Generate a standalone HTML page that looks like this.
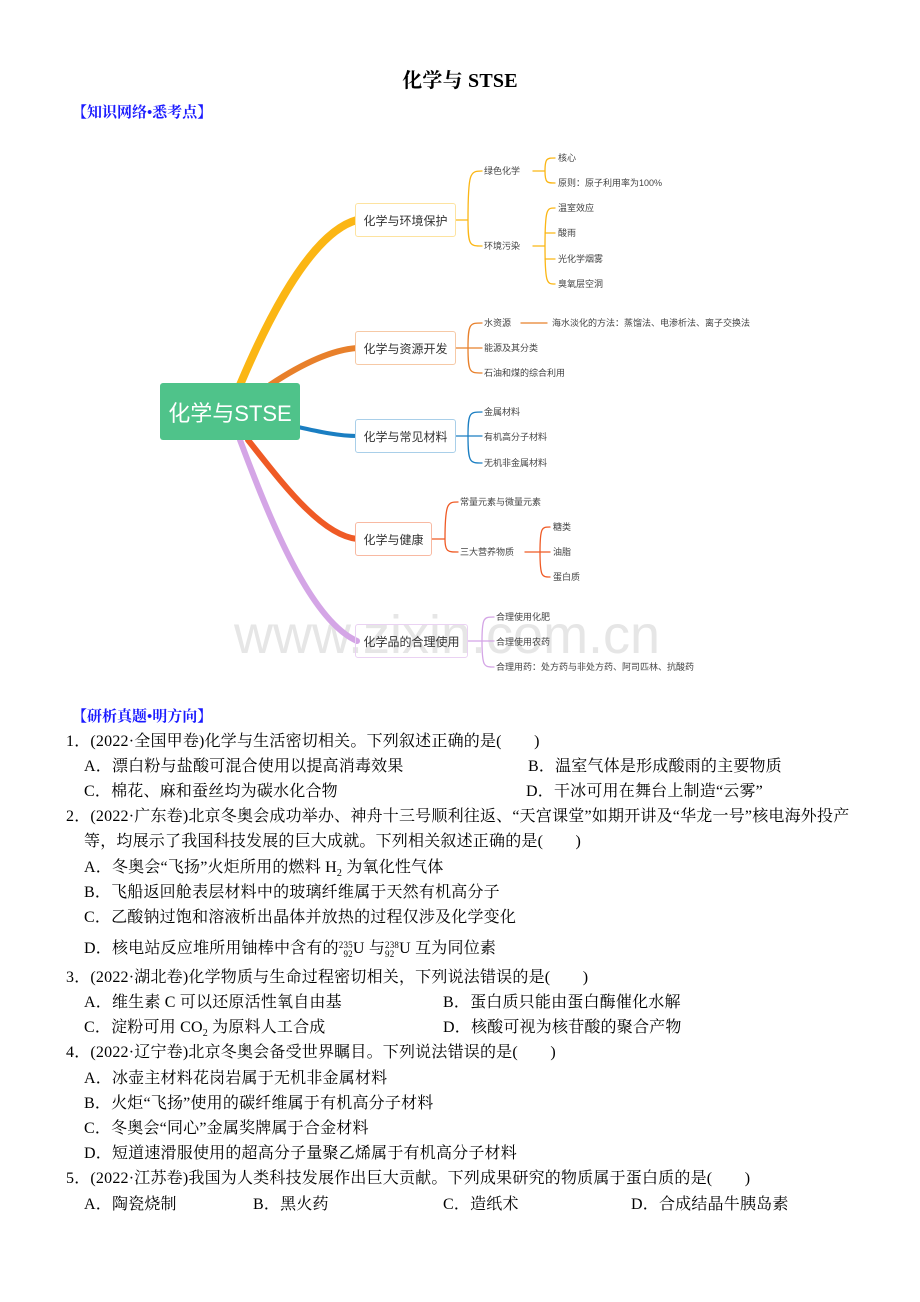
<!DOCTYPE html>
<html><head><meta charset="utf-8"><style>
body{margin:0;background:#fff;}
#p{position:relative;width:920px;height:1302px;overflow:hidden;font-family:"Liberation Serif","Noto Serif CJK SC",serif;color:#000;}
.t{position:absolute;font-size:16px;line-height:20px;white-space:nowrap;letter-spacing:0.2px;}
.l{position:absolute;font-family:"Liberation Sans","Noto Sans CJK SC",sans-serif;font-size:9px;line-height:12px;color:#444;white-space:nowrap;}
.b{position:absolute;font-family:"Liberation Sans","Noto Sans CJK SC",sans-serif;font-size:12px;color:#333;background:#fff;border:1px solid;border-radius:3px;box-sizing:border-box;display:flex;align-items:center;justify-content:center;white-space:nowrap;}
.h{position:absolute;color:#1a1aff;font-weight:bold;font-size:15px;line-height:18px;font-family:"Liberation Serif","Noto Serif CJK SC",serif;}
sub{font-size:10px;}
</style></head><body><div id="p">
<div class="t" style="left:0;width:920px;text-align:center;top:69px;font-size:20px;line-height:24px;font-weight:bold;">化学与 STSE</div>
<div class="h" style="left:72px;top:104px;">【知识网络•悉考点】</div>

<div style="position:absolute;left:234px;top:604px;font-family:'Liberation Sans',sans-serif;font-size:54px;color:#e6e6e6;">www.zixin.com.cn</div>

<svg style="position:absolute;left:0;top:0" width="920" height="700">
<g fill="none" stroke-linecap="round">
<path d="M240 385 C280 290 320 230 357 220" stroke="#fbb614" stroke-width="8"/>
<path d="M270 385 C300 365 330 350 357 348" stroke="#e8802b" stroke-width="6"/>
<path d="M298 427 C320 432 340 436 357 436" stroke="#1a7ec2" stroke-width="4"/>
<path d="M248 440 C280 480 320 535 357 539" stroke="#ef5a25" stroke-width="6"/>
<path d="M240 440 C270 520 310 620 357 641" stroke="#d4a5e6" stroke-width="6"/>
<g stroke-width="1.3">
<g stroke="#fbb614">
<path d="M456 220 H468 M468 220 C468 172 470 171 482 171 M468 220 C468 246 470 246 482 246"/>
<path d="M533 171 H545 M545 171 C545 158 547 158 555 158 M545 171 C545 183 547 183 555 183"/>
<path d="M533 246 H545 M545 246 C545 208 547 208 555 208 M545 246 C545 284 547 284 555 284 M545 233 H555 M545 259 H555"/>
</g>
<g stroke="#e8802b">
<path d="M456 348 H468 M468 348 C468 323 470 323 482 323 M468 348 C468 373 470 373 482 373 M468 348 H482 M521 323 H547"/>
</g>
<g stroke="#1a7ec2">
<path d="M456 436 H468 M468 436 C468 412 470 412 482 412 M468 436 C468 463 470 463 482 463 M468 436 H482"/>
</g>
<g stroke="#ef5a25">
<path d="M432 539 H445 M445 539 C445 502 448 502 458 502 M445 539 C445 552 448 552 458 552"/>
<path d="M525 552 H540 M540 552 C540 527 542 527 550 527 M540 552 C540 577 542 577 550 577 M540 552 H550"/>
</g>
<g stroke="#d4a5e6">
<path d="M468 641 H482 M482 641 C482 617 484 617 494 617 M482 641 C482 667 484 667 494 667 M482 641 H494"/>
</g>
</g></g></svg>

<div style="position:absolute;left:160px;top:383px;width:140px;height:57px;background:#4fc38a;border-radius:3px;color:#fff;font-family:'Liberation Sans','Noto Sans CJK SC',sans-serif;font-size:22px;display:flex;align-items:center;justify-content:center;">化学与STSE</div>
<div class="b" style="left:355px;top:203px;width:101px;height:34px;border-color:#fde3a0;">化学与环境保护</div>
<div class="b" style="left:355px;top:331px;width:101px;height:34px;border-color:#f6c9a6;">化学与资源开发</div>
<div class="b" style="left:355px;top:419px;width:101px;height:34px;border-color:#a9cfe9;">化学与常见材料</div>
<div class="b" style="left:355px;top:522px;width:77px;height:34px;border-color:#f8b9a2;">化学与健康</div>
<div class="b" style="left:355px;top:624px;width:113px;height:34px;border-color:#ead2f3;background:transparent;">化学品的合理使用</div>

<div class="l" style="left:484px;top:165px;">绿色化学</div>
<div class="l" style="left:558px;top:152px;">核心</div>
<div class="l" style="left:558px;top:177px;">原则：原子利用率为100%</div>
<div class="l" style="left:484px;top:240px;">环境污染</div>
<div class="l" style="left:558px;top:202px;">温室效应</div>
<div class="l" style="left:558px;top:227px;">酸雨</div>
<div class="l" style="left:558px;top:253px;">光化学烟雾</div>
<div class="l" style="left:558px;top:278px;">臭氧层空洞</div>
<div class="l" style="left:484px;top:317px;">水资源</div>
<div class="l" style="left:552px;top:317px;">海水淡化的方法：蒸馏法、电渗析法、离子交换法</div>
<div class="l" style="left:484px;top:342px;">能源及其分类</div>
<div class="l" style="left:484px;top:367px;">石油和煤的综合利用</div>
<div class="l" style="left:484px;top:406px;">金属材料</div>
<div class="l" style="left:484px;top:431px;">有机高分子材料</div>
<div class="l" style="left:484px;top:457px;">无机非金属材料</div>
<div class="l" style="left:460px;top:496px;">常量元素与微量元素</div>
<div class="l" style="left:460px;top:546px;">三大营养物质</div>
<div class="l" style="left:553px;top:521px;">糖类</div>
<div class="l" style="left:553px;top:546px;">油脂</div>
<div class="l" style="left:553px;top:571px;">蛋白质</div>
<div class="l" style="left:496px;top:611px;">合理使用化肥</div>
<div class="l" style="left:496px;top:636px;">合理使用农药</div>
<div class="l" style="left:496px;top:661px;">合理用药：处方药与非处方药、阿司匹林、抗酸药</div>

<div class="h" style="left:72px;top:708px;">【研析真题•明方向】</div>
<div class="t" style="left:66px;top:732px;">1．(2022·全国甲卷)化学与生活密切相关。下列叙述正确的是(　　)</div>
<div class="t" style="left:84px;top:757px;">A．漂白粉与盐酸可混合使用以提高消毒效果</div>
<div class="t" style="left:528px;top:757px;">B．温室气体是形成酸雨的主要物质</div>
<div class="t" style="left:84px;top:782px;">C．棉花、麻和蚕丝均为碳水化合物</div>
<div class="t" style="left:526px;top:782px;">D．干冰可用在舞台上制造“云雾”</div>
<div class="t" style="left:66px;top:807px;">2．(2022·广东卷)北京冬奥会成功举办、神舟十三号顺利往返、“天宫课堂”如期开讲及“华龙一号”核电海外投产</div>
<div class="t" style="left:84px;top:832px;">等，均展示了我国科技发展的巨大成就。下列相关叙述正确的是(　　)</div>
<div class="t" style="left:84px;top:858px;">A．冬奥会“飞扬”火炬所用的燃料 H<sub>2</sub> 为氧化性气体</div>
<div class="t" style="left:84px;top:883px;">B．飞船返回舱表层材料中的玻璃纤维属于天然有机高分子</div>
<div class="t" style="left:84px;top:908px;">C．乙酸钠过饱和溶液析出晶体并放热的过程仅涉及化学变化</div>
<div class="t" style="left:84px;top:939px;">D．核电站反应堆所用铀棒中含有的<span style="display:inline-block;font-size:9px;line-height:9px;vertical-align:-4px;text-align:right;">235<br>92</span>U 与<span style="display:inline-block;font-size:9px;line-height:9px;vertical-align:-4px;">238<br>92</span>U 互为同位素</div>
<div class="t" style="left:66px;top:968px;">3．(2022·湖北卷)化学物质与生命过程密切相关，下列说法错误的是(　　)</div>
<div class="t" style="left:84px;top:993px;">A．维生素 C 可以还原活性氧自由基</div>
<div class="t" style="left:443px;top:993px;">B．蛋白质只能由蛋白酶催化水解</div>
<div class="t" style="left:84px;top:1018px;">C．淀粉可用 CO<sub>2</sub> 为原料人工合成</div>
<div class="t" style="left:443px;top:1018px;">D．核酸可视为核苷酸的聚合产物</div>
<div class="t" style="left:66px;top:1043px;">4．(2022·辽宁卷)北京冬奥会备受世界瞩目。下列说法错误的是(　　)</div>
<div class="t" style="left:84px;top:1069px;">A．冰壶主材料花岗岩属于无机非金属材料</div>
<div class="t" style="left:84px;top:1094px;">B．火炬“飞扬”使用的碳纤维属于有机高分子材料</div>
<div class="t" style="left:84px;top:1119px;">C．冬奥会“同心”金属奖牌属于合金材料</div>
<div class="t" style="left:84px;top:1144px;">D．短道速滑服使用的超高分子量聚乙烯属于有机高分子材料</div>
<div class="t" style="left:66px;top:1169px;">5．(2022·江苏卷)我国为人类科技发展作出巨大贡献。下列成果研究的物质属于蛋白质的是(　　)</div>
<div class="t" style="left:84px;top:1195px;">A．陶瓷烧制</div>
<div class="t" style="left:253px;top:1195px;">B．黑火药</div>
<div class="t" style="left:443px;top:1195px;">C．造纸术</div>
<div class="t" style="left:631px;top:1195px;">D．合成结晶牛胰岛素</div>
</div></body></html>
